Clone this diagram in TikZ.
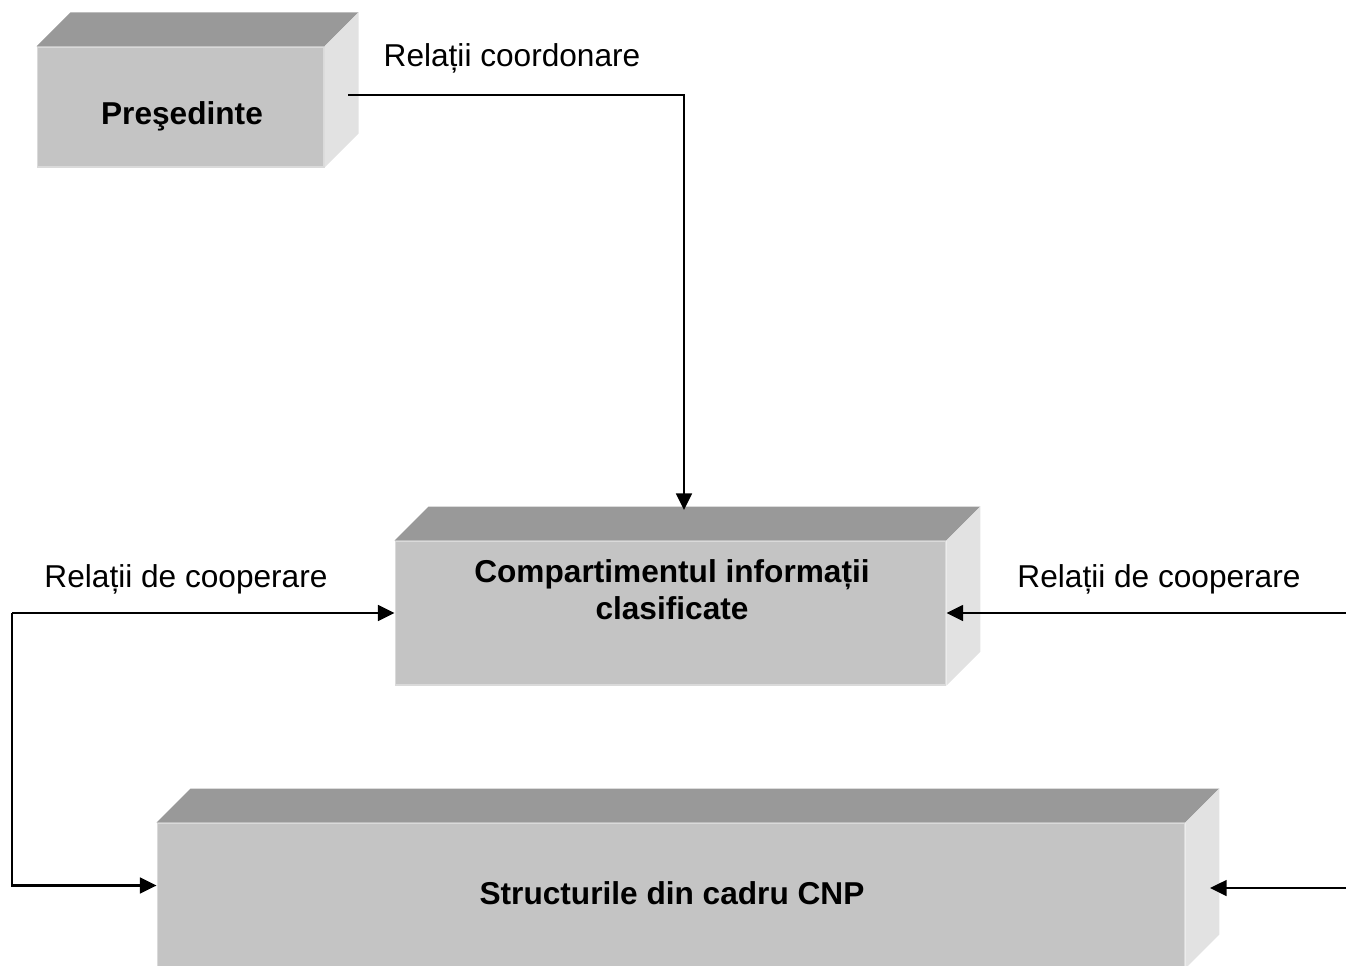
\documentclass[tikz,border=0pt]{standalone}
\usepackage{fontspec}
\setmainfont{Liberation Sans}
\usepackage{tikz}
\usetikzlibrary{calc,arrows.meta}
\definecolor{frontgray}{RGB}{196,196,196}
\definecolor{topgray}{RGB}{153,153,153}
\definecolor{sidegray}{RGB}{226,226,226}
\definecolor{edgegray}{RGB}{218,218,218}
\def\boxfaces#1#2{%
	\fill[topgray] (#1.north west) -- ++(#2,-#2) -- ($(#1.north east)+(#2,-#2)$) -- (#1.north east) -- cycle;
	\fill[sidegray] (#1.north east) -- ++(#2,-#2) -- ($(#1.south east)+(#2,-#2)$) -- (#1.south east) -- cycle;}
\tikzset{
	front/.style={rectangle, fill=frontgray, draw=edgegray, line width=0.6pt, inner sep=0pt},
	boxtext/.style={font=\fontsize{18}{21}\selectfont\bfseries, align=center},
	reltext/.style={font=\fontsize{18}{21}\selectfont},
	conn/.style={line width=1.3pt, -{Triangle[length=9.5pt,width=9pt]}}
}

\begin{document}
\begin{tikzpicture}[x=0.02cm, y=-0.02cm]
				\useasboundingbox (0,0) rectangle (1346,965);
				
				\node[front, minimum width=5.74cm, minimum height=2.4cm] (pres) at (180.5,107) {};
				\boxfaces{pres}{34}
				\node[boxtext] (presTxt) at (182,116) {Preşedinte};
				
				\node[front, minimum width=11.02cm, minimum height=2.88cm] (ci) at (670.5,613) {};
				\boxfaces{ci}{34}
				\node[boxtext] (ciTxt) at (672,590) {Compartimentul informații\\clasificate};
				
				\node[front, minimum width=20.56cm, minimum height=2.9cm] (cnp) at (671,895.5) {};
				\boxfaces{cnp}{34}
				\node[boxtext] (cnpTxt) at (672,893) {Structurile din cadru CNP};
				
				\node[reltext] (relCoord) at (512,58) {Relații coordonare};
				\node[reltext] (relLeft) at (186,579) {Relații de cooperare};
				\node[reltext] (relRight) at (1159,579) {Relații de cooperare};
				
				\coordinate (presOut) at (348,95);
				\coordinate (ciTop) at (684,510);
				\coordinate (leftEnd) at (12,613);
				\coordinate (rightEnd) at (1346,613);
				\coordinate (rightLow) at (1346,888);
				\coordinate (cnpSide) at (1210,888);
				
				\draw[conn] (presOut) -| (ciTop);
				\draw[conn] (leftEnd) -- (ci.west);
				\draw[conn] (leftEnd) |- ($(cnp.west)+(0,-10)$);
				\draw[conn] (rightEnd) -- (ci.east);
				\draw[conn] (rightLow) -- (cnpSide);
\end{tikzpicture}
\end{document}
